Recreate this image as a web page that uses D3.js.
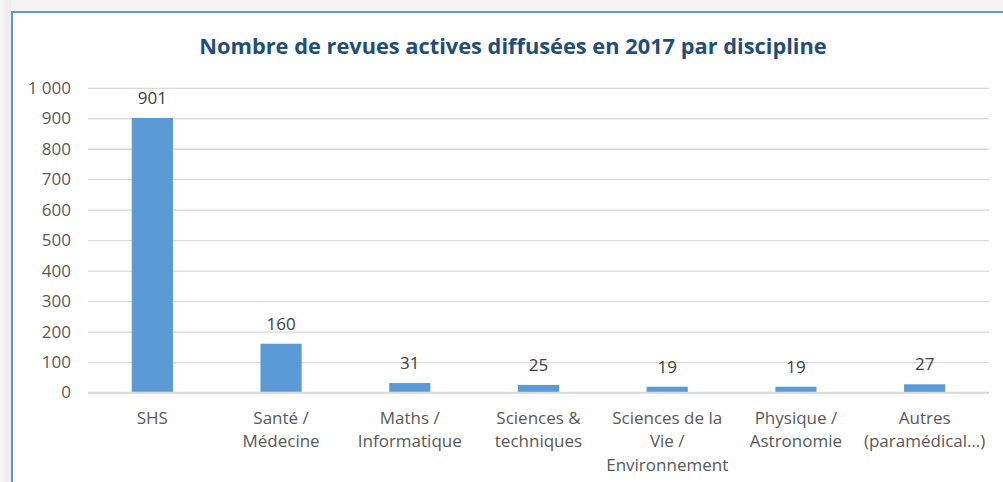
<!DOCTYPE html>
<html>
<head>
<meta charset="utf-8">
<script src="https://cdn.jsdelivr.net/npm/d3@7"></script>
<style>
  html, body { margin: 0; padding: 0; background: #f2f2f2; }
  svg { display: block; }
</style>
</head>
<body>
<svg id="chart" width="1003" height="482"></svg>
<script>
const title = "Nombre de revues actives diffusées en 2017 par discipline";
const categories = ["SHS", "Santé / Médecine", "Maths / Informatique", "Sciences & techniques",
  "Sciences de la Vie / Environnement", "Physique / Astronomie", "Autres (paramédical…)"];
const categoryLines = [["SHS"], ["Santé /", "Médecine"], ["Maths /", "Informatique"],
  ["Sciences &", "techniques"], ["Sciences de la", "Vie /", "Environnement"],
  ["Physique /", "Astronomie"], ["Autres", "(paramédical…)"]];
const values = [901, 160, 31, 25, 19, 19, 27];
const yTicks = [0, 100, 200, 300, 400, 500, 600, 700, 800, 900, 1000];
const yTickLabels = ["0", "100", "200", "300", "400", "500", "600", "700", "800", "900", "1 000"];

(function () {
const svg = d3.select("#chart");
const W = 1003, H = 482;

// outer background with soft shadow on the left
const defs = svg.append("defs");
const grad = defs.append("linearGradient").attr("id", "shadowL").attr("x1", 0).attr("x2", 1);
grad.append("stop").attr("offset", 0).attr("stop-color", "#f7f7f7");
grad.append("stop").attr("offset", 1).attr("stop-color", "#ececec");
svg.append("rect").attr("x", 0).attr("y", 0).attr("width", W).attr("height", H).attr("fill", "#f3f3f3");
svg.append("rect").attr("x", 0).attr("y", 0).attr("width", 11).attr("height", H).attr("fill", "url(#shadowL)");

// chart box
svg.append("rect").attr("x", 11).attr("y", 11).attr("width", W).attr("height", H)
  .attr("fill", "#ffffff");
svg.append("line").attr("x1", 11).attr("x2", W).attr("y1", 12).attr("y2", 12)
  .attr("stroke", "#5B9BD5").attr("stroke-width", 2);
svg.append("line").attr("x1", 12).attr("x2", 12).attr("y1", 11).attr("y2", H)
  .attr("stroke", "#5B9BD5").attr("stroke-width", 2);

// title
svg.append("text").attr("x", 513).attr("y", 53.5).attr("text-anchor", "middle")
  .attr("font-family", "'Open Sans', sans-serif").attr("font-weight", "bold")
  .attr("font-size", 21.8).attr("fill", "#1F4E79").text(title);

const pLeft = 88, pRight = 989, pTop = 87.8, pBottom = 392.5;
const x = d3.scaleBand().domain(categories).range([pLeft, pRight]).paddingInner(0.68).paddingOuter(0.34);
const y = d3.scaleLinear().domain([0, 1000]).range([pBottom, pTop]);

const font = "'Open Sans', sans-serif";

// gridlines
const yAxis = d3.axisLeft(y).tickValues(yTicks).tickSize(-(pRight - pLeft))
  .tickFormat((d, i) => yTickLabels[i]).tickPadding(17);
const gy = svg.append("g").attr("transform", `translate(${pLeft},0)`).call(yAxis);
gy.select(".domain").remove();
gy.selectAll(".tick line").attr("stroke", "#D9D9D9").attr("stroke-width", 1.3);
gy.selectAll(".tick text").attr("font-family", font).attr("font-size", 17).attr("fill", "#595959");

// bars
svg.append("g").selectAll("rect").data(values).join("rect")
  .attr("x", (d, i) => x(categories[i]))
  .attr("width", x.bandwidth())
  .attr("y", d => y(d))
  .attr("height", d => y(0) - y(d))
  .attr("fill", "#5B9BD5");

// axis line
svg.append("line").attr("x1", pLeft).attr("x2", pRight).attr("y1", y(0)).attr("y2", y(0))
  .attr("stroke", "#D9D9D9").attr("stroke-width", 1.5);

// data labels
svg.append("g").selectAll("text").data(values).join("text")
  .attr("x", (d, i) => x(categories[i]) + x.bandwidth() / 2)
  .attr("y", d => y(d) - 14)
  .attr("text-anchor", "middle")
  .attr("font-family", font).attr("font-size", 17).attr("fill", "#404040")
  .text(d => d);

// category labels
const cg = svg.append("g").selectAll("text").data(categories).join("text")
  .attr("x", d => x(d) + x.bandwidth() / 2)
  .attr("y", 423.5)
  .attr("text-anchor", "middle")
  .attr("font-family", font).attr("font-size", 17).attr("fill", "#595959");
cg.each(function(d, i) {
  const t = d3.select(this);
  categoryLines[i].forEach((line, j) => {
    t.append("tspan").attr("x", x(d) + x.bandwidth() / 2).attr("dy", j === 0 ? 0 : 23.5).text(line);
  });
});
})();
</script>
</body>
</html>
